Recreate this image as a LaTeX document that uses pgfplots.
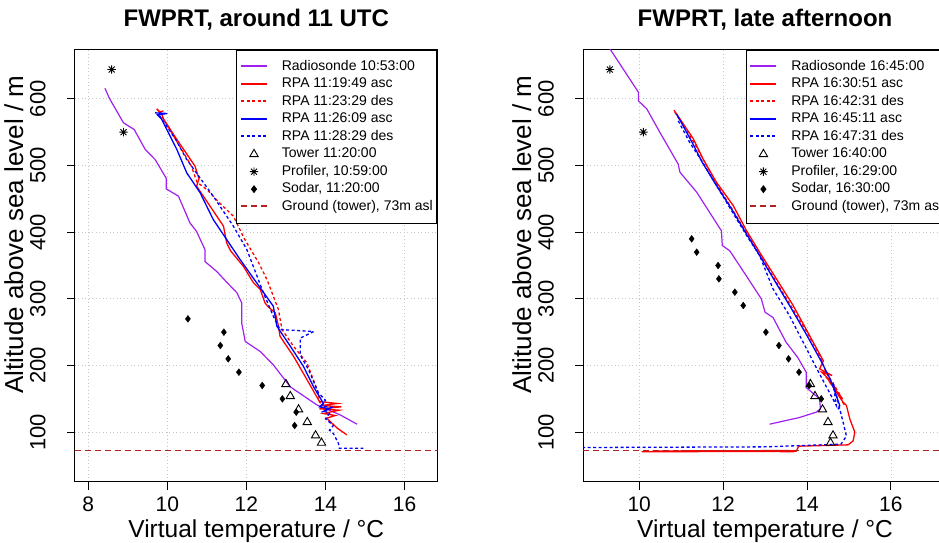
\documentclass[border=0pt]{standalone}
\usepackage{fontspec}
\setmainfont{Liberation Sans}
\usepackage{pgfplots}
\pgfplotsset{compat=1.18}
\usetikzlibrary{plotmarks}

% R pch 8: plus and cross on top of each other
\pgfdeclareplotmark{rast}{%
  \pgfpathmoveto{\pgfqpoint{-\pgfplotmarksize}{0pt}}\pgfpathlineto{\pgfqpoint{\pgfplotmarksize}{0pt}}%
  \pgfpathmoveto{\pgfqpoint{0pt}{-\pgfplotmarksize}}\pgfpathlineto{\pgfqpoint{0pt}{\pgfplotmarksize}}%
  \pgfpathmoveto{\pgfqpoint{-.707\pgfplotmarksize}{-.707\pgfplotmarksize}}\pgfpathlineto{\pgfqpoint{.707\pgfplotmarksize}{.707\pgfplotmarksize}}%
  \pgfpathmoveto{\pgfqpoint{-.707\pgfplotmarksize}{.707\pgfplotmarksize}}\pgfpathlineto{\pgfqpoint{.707\pgfplotmarksize}{-.707\pgfplotmarksize}}%
  \pgfusepathqstroke}

\definecolor{rpurple}{RGB}{160,32,240}
\definecolor{ground}{RGB}{178,34,34}

\pgfplotsset{
  fwbase/.style={
    scale only axis, height=432pt, anchor=south west,
    ymin=26, ymax=674, ytick={100,200,...,600},
    xtick pos=bottom, ytick pos=left,
    tick align=outside, major tick length=8pt,
    tick style={black, line width=0.8pt},
    axis line style={black, line width=0.8pt},
    grid=major, grid style={gray!45, line width=0.7pt, dash pattern=on 1pt off 2.5pt},
    xticklabel style={font=\fontsize{21}{24}\selectfont, anchor=base}, xticklabel shift=22pt,
    yticklabel style={font=\fontsize{22}{24}\selectfont, rotate=90, anchor=base}, yticklabel shift=21.5pt,
    /pgf/number format/assume math mode=true,
    xlabel={Virtual temperature / °C},
    ylabel={Altitude above sea level / m},
    xlabel style={font=\fontsize{24.5}{28}\selectfont, at={(axis description cs:0.5,-0.1285)}, anchor=base},
    ylabel style={font=\fontsize{26}{30}\selectfont, at={(axis description cs:-0.1425,0.5718)}, anchor=base},
    title style={font=\bfseries\fontsize{24}{28}\selectfont, anchor=base, at={(axis description cs:0.5,1.039)}},
    legend cell align=left,
    legend style={at={(1,1)}, anchor=north east, xshift=-1pt, draw=black, line width=0.8pt,
      fill=white, font=\fontsize{14}{16}\selectfont, inner xsep=3.5pt, inner ysep=8pt,
      row sep=0pt, column sep=14pt,
      nodes={inner sep=0pt, text height=12.5pt, text depth=5pt}},
    legend image code/.code={\draw[#1, line width=1.7pt] (0pt,0.5pt) -- (26pt,0.5pt);},
  },
  sonde/.style={color=rpurple, line width=1.2pt, no marks},
  rasc/.style={color=red, line width=1.3pt, no marks},
  rdes/.style={color=red, line width=1.3pt, no marks, dash pattern=on 3pt off 2.5pt},
  basc/.style={color=blue, line width=1.3pt, no marks},
  bdes/.style={color=blue, line width=1.3pt, no marks, dash pattern=on 3pt off 2.5pt},
  markleg/.style={legend image code/.code={\draw[##1] plot coordinates {(13pt,0pt)};}},
  tower/.style={color=black, only marks, mark=triangle, mark size=4.8pt, line width=0.9pt, markleg},
  prof/.style={color=black, only marks, mark=rast, mark size=4.2pt, line width=0.9pt, markleg},
  sodar/.style={color=black, only marks, mark=diamond*, mark size=3.4pt, markleg},
  gnd/.style={color=ground, line width=1pt, no marks, dash pattern=on 6pt off 4pt},
}

\begin{document}
\begin{tikzpicture}
\useasboundingbox (0pt,-542pt) rectangle (939pt,0pt);

% ---------------- left panel ----------------
\begin{axis}[fwbase, at={(74.9pt,-481.5pt)}, width=362.8pt,
  xmin=7.66, xmax=16.84, xtick={8,10,...,16},
  title={FWPRT, around 11 UTC}]
\addplot[sonde] coordinates {
(8.42,616) (8.53,601) (8.89,564) (9.16,554) (9.44,524) (9.69,509) (9.97,481) (9.97,465)
(10.28,454) (10.57,414) (10.74,401) (10.95,374) (10.95,356) (11.25,341) (11.5,325)
(11.76,309) (11.88,294) (11.88,264) (11.97,236) (12.35,221) (12.68,201) (13.11,168)
(13.78,141) (14.37,126) (14.80,112)};
\addlegendentry{Radiosonde 10:53:00}
\addplot[rasc] coordinates {
(14.54,96) (14.3,106) (14.03,121) (14.25,125) (13.95,128) (14.35,133) (13.85,135)
(14.4,138) (13.9,140) (14.3,143) (13.85,146) (13.78,153) (13.53,179) (13.19,214)
(12.95,235) (12.85,244) (12.8,262) (12.73,279) (12.55,288) (12.47,294) (12.35,314)
(12.18,324) (11.92,349) (11.6,372) (11.5,384) (11.42,409) (11.08,439) (10.74,469)
(10.8,480) (10.70,499) (10.24,539) (9.9,570) (9.85,578) (9.73,585) (9.8,580) (9.9,582)};
\addlegendentry{RPA 11:19:49 asc}
\addplot[rdes] coordinates {
(9.8,580) (10.25,535) (10.6,500) (10.75,475) (11.0,464) (11.3,445) (11.67,424)
(11.95,390) (12.31,354) (12.52,329) (12.81,284) (12.9,254) (13.19,229) (13.53,204)
(13.82,159) (13.85,145) (14.0,138)};
\addlegendentry{RPA 11:23:29 des}
\addplot[basc] coordinates {
(9.69,579) (10.0,578) (9.75,576) (9.85,570) (10.24,524) (10.49,489) (10.83,459)
(11.16,419) (11.50,389) (11.84,359) (12.14,334) (12.26,324) (12.68,289) (12.77,259)
(13.11,229) (13.44,199) (13.70,168) (13.95,143) (13.85,138) (14.1,135) (13.9,130)};
\addlegendentry{RPA 11:26:09 asc}
\addplot[bdes] coordinates {
(9.8,575) (10.2,540) (10.49,509) (11.16,454) (11.67,409) (12.01,374) (12.43,309)
(12.68,274) (12.85,254) (13.70,251) (13.36,241) (13.36,216) (13.57,194) (13.82,159)
(14.0,148) (13.9,140) (14.15,137) (13.95,133) (14.1,128) (14.0,120) (14.2,110)
(14.1,103) (14.2,98) (14.33,83) (14.35,76) (14.96,76)};
\addlegendentry{RPA 11:28:29 des}
\addplot[tower] coordinates {
(13.0,172) (13.11,154) (13.32,134) (13.54,115) (13.75,95) (13.9,84)};
\addlegendentry{Tower 11:20:00}
\addplot[prof] coordinates {(8.59,644) (8.89,550)};
\addlegendentry{Profiler, 10:59:00}
\addplot[sodar] coordinates {
(10.52,270) (11.43,250) (11.34,230) (11.54,210) (11.81,190) (12.40,170) (12.91,150)
(13.26,130) (13.22,110)};
\addlegendentry{Sodar, 11:20:00}
\addplot[gnd] coordinates {(7.66,73) (16.84,73)};
\addlegendentry{Ground (tower), 73m asl}
\end{axis}

% ---------------- right panel ----------------
\begin{axis}[fwbase, at={(583pt,-481.5pt)}, width=364.1pt,
  xmin=8.66, xmax=17.34, xtick={10,12,...,16},
  title={FWPRT, late afternoon}]
\addplot[sonde] coordinates {
(9.25,680) (9.98,610) (9.98,597) (10.18,585) (10.49,550) (10.93,502) (10.97,490)
(11.37,460) (11.96,402) (11.98,380) (12.16,372) (12.60,330) (12.91,300) (13.0,280)
(13.19,272) (13.5,235) (13.78,212) (13.98,190) (13.98,167) (14.30,150) (14.32,135)
(14.22,130) (13.82,122) (13.11,112)};
\addlegendentry{Radiosonde 16:45:00}
\addplot[rasc] coordinates {
(13.75,71.5) (10.06,70.5) (13.6,72.5) (10.3,71.5) (13.7,70.8) (11.0,72.2) (13.75,72)
(13.8,79) (14.98,81) (15.10,87) (15.14,100) (15.02,120) (14.94,140) (14.86,145)
(14.7,160) (14.85,150) (14.6,170) (14.7,165) (14.45,183) (14.55,178) (14.35,190)
(14.6,185) (14.3,195) (14.39,207) (14.06,245) (13.67,290) (13.27,330) (12.87,370)
(12.56,402) (12.24,440) (11.84,475) (11.52,510) (11.29,540) (10.83,583)};
\addlegendentry{RPA 16:30:51 asc}
\addplot[rdes] coordinates {
(10.85,580) (11.3,535) (11.85,472) (12.55,400) (13.3,322) (14.0,250) (14.3,215)
(14.45,190) (14.6,175) (14.8,155) (14.85,145) (14.9,140)};
\addlegendentry{RPA 16:42:31 des}
\addplot[basc] coordinates {
(10.89,577) (11.0,565) (11.3,530) (11.5,505) (11.84,470) (12.2,435) (12.55,398)
(12.9,362) (13.25,325) (13.65,283) (14.0,245) (14.35,205) (14.55,180) (14.7,155)
(14.78,140) (14.75,134)};
\addlegendentry{RPA 16:45:11 asc}
\addplot[bdes] coordinates {
(10.93,567) (11.2,535) (11.56,500) (12.08,445) (12.56,395) (12.87,365) (13.19,315)
(13.58,275) (14.26,192) (14.70,140) (14.62,175) (14.80,130) (14.86,115) (14.94,94)
(14.81,82) (13.0,78) (8.66,77)};
\addlegendentry{RPA 16:47:31 des}
\addplot[tower] coordinates {
(14.08,172) (14.19,154) (14.37,134) (14.50,115) (14.62,95) (14.56,84)};
\addlegendentry{Tower 16:40:00}
\addplot[prof] coordinates {(9.30,644) (10.10,550)};
\addlegendentry{Profiler, 16:29:00}
\addplot[sodar] coordinates {
(11.25,390) (11.37,370) (11.88,350) (11.90,330) (12.28,310) (12.48,290) (13.02,250)
(13.33,230) (13.56,210) (13.81,190) (14.05,170) (14.34,150)};
\addlegendentry{Sodar, 16:30:00}
\addplot[gnd] coordinates {(8.66,73) (17.34,73)};
\addlegendentry{Ground (tower), 73m asl}
\end{axis}
\end{tikzpicture}
\end{document}
